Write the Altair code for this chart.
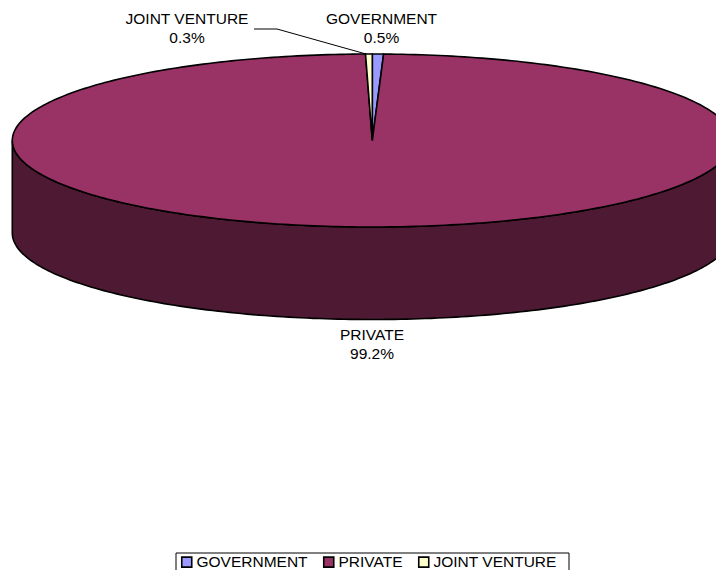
import math
import altair as alt

categories = ["GOVERNMENT", "PRIVATE", "JOINT VENTURE"]
shares = [0.5, 99.2, 0.3]
share_labels = ["0.5%", "99.2%", "0.3%"]
colors = ["#9999FF", "#993366", "#FFFFCC"]
wall_color = "#4D1933"
FONT = "Liberation Sans"
FS = 15.5

TILT = 86.5 / 360    # ellipse height / width
DEPTH = 92.5 / 360   # wall height / width
RADIUS_PX = 360
CX, CY = 364.3, 132.5  # pie centre within plot area


def rim(a, drop=0.0):
    return [math.sin(a), -math.cos(a) * TILT + drop]


def arc(a0, a1, drop=0.0):
    n = max(2, int(abs(a1 - a0) / math.radians(1)) + 2)
    return [rim(a0 + (a1 - a0) * i / (n - 1), drop) for i in range(n)]


def feature(name, coords, kind="Polygon"):
    geom = {"type": kind, "coordinates": [coords] if kind == "Polygon" else coords}
    return {"type": "Feature", "geometry": geom, "properties": {"name": name}}


def geo(features):
    return alt.InlineData(values={"type": "FeatureCollection", "features": features},
                          format=alt.DataFormat(property="features", type="json"))


projection = alt.Projection(type="identity", scale=RADIUS_PX, translate=[CX, CY])

# slices, clockwise from twelve o'clock
slices = []
start = 0.0
total = sum(shares)
for name, share in zip(categories, shares):
    end = start + share / total * 2 * math.pi
    ring = [[0.0, 0.0]] + arc(start, end) + [[0.0, 0.0]]
    slices.append(feature(name, ring))
    start = end

wall_ring = (arc(math.pi / 2, 3 * math.pi / 2)
             + arc(3 * math.pi / 2, math.pi / 2, DEPTH))
wall_ring.append(wall_ring[0])

leader_px = [(254, 29), (277, 29), (366, 54)]
leader = [[(x - 8 - CX) / RADIUS_PX, (y - 8 - CY) / RADIUS_PX] for x, y in leader_px]

wall = alt.Chart(geo([feature("wall", wall_ring)])).mark_geoshape(
    fill=wall_color, stroke="black", strokeWidth=1.6)

pie = alt.Chart(geo(slices)).mark_geoshape(stroke="black", strokeWidth=1.6).encode(
    color=alt.Color(
        "properties.name:N",
        scale=alt.Scale(domain=categories, range=colors),
        sort=categories,
        legend=alt.Legend(
            title=None, orient="none", direction="horizontal", columns=3,
            legendX=171, legendY=546, padding=0,
            symbolType="square", symbolSize=100,
            symbolStrokeColor="black", symbolStrokeWidth=1.6,
            labelFont=FONT, labelFontSize=FS, labelColor="black",
            labelOffset=2, columnPadding=12, symbolOpacity=1,
        ),
    )
)

leader_mark = alt.Chart(geo([feature("leader", leader, "LineString")])).mark_geoshape(
    filled=False, stroke="black", strokeWidth=1)


def label(i, x, y):
    return alt.Chart(alt.Data(values=[{"t": [categories[i], share_labels[i]]}])).mark_text(
        font=FONT, fontSize=FS, color="black", align="center", baseline="middle", lineHeight=19
    ).encode(text="t:N", x=alt.value(x), y=alt.value(y))


box = alt.Chart(alt.Data(values=[{"k": 1}])).mark_rect(
    fill="white", stroke="black", strokeWidth=1
).encode(x=alt.value(168), x2=alt.value(561), y=alt.value(545), y2=alt.value(580))

chart = alt.layer(
    box, wall, pie, leader_mark,
    label(2, 179, 11), label(0, 373.5, 11), label(1, 364, 326.5),
).properties(
    width=708, height=562, padding=0, autosize=alt.AutoSizeParams(type="none"),
    projection=projection,
).configure_view(stroke=None)

chart.save("out.html", embed_options={"renderer": "svg", "actions": False})
